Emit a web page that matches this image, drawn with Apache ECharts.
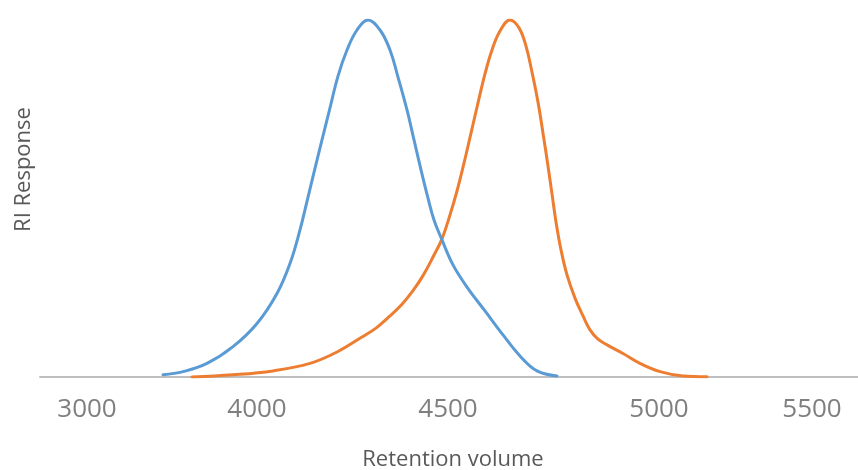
<!DOCTYPE html>
<html>
<head>
<meta charset="utf-8">
<script src="https://cdn.jsdelivr.net/npm/echarts@6/dist/echarts.min.js"></script>
<style>
  html, body { margin: 0; padding: 0; background: #ffffff; }
  #chart { width: 858px; height: 470px; }
</style>
</head>
<body>
<div id="chart"></div>
<script>
// Tick labels of the retention-volume axis and the category slot where each one sits
const tickLabels = [3000, 4000, 4500, 5000, 5500];
const tickSlots = [47, 217, 408, 619, 772];
const slotCount = 819;

// Series 1 (blue)
const blueVolume = [3445, 3566, 3704, 3861, 3998, 4052, 4086, 4113, 4131, 4149, 4170, 4191, 4213, 4235, 4261, 4290,
  4322, 4348, 4370, 4392, 4411, 4429, 4448, 4463, 4484, 4512, 4545, 4588, 4630, 4671, 4711, 4758];
const blueResponse = [0.6, 1.5, 3.8, 8.5, 15.0, 23.4, 31.8, 41.2, 49.2, 57.3, 66.4, 75.4, 84.3, 91.6, 97.2, 100,
  97.2, 91.6, 84.0, 74.8, 66.4, 58.0, 50.1, 44.0, 38.4, 31.4, 25.2, 18.5, 11.8, 5.9, 1.7, 0.3];

// Series 2 (orange)
const orangeVolume = [3616, 3859, 4042, 4139, 4209, 4275, 4312, 4348, 4380, 4408, 4435, 4461, 4484, 4505, 4521, 4538,
  4555, 4571, 4588, 4604, 4623, 4647, 4668, 4685, 4699, 4713, 4725, 4737, 4746, 4756, 4768, 4782, 4801, 4820, 4836,
  4855, 4876, 4915, 4955, 5003, 5079, 5156];
const orangeResponse = [0.0, 0.6, 1.7, 3.8, 7.0, 11.2, 13.7, 17.1, 20.4, 24.2, 28.4, 33.6, 38.7, 45.4, 52.1, 59.9,
  68.3, 76.8, 84.9, 91.6, 96.9, 100, 97.8, 92.7, 85.4, 77.0, 68.3, 59.1, 51.3, 43.4, 35.6, 28.6, 22.1, 17.1, 13.2,
  10.6, 9.0, 6.6, 3.8, 1.5, 0.3, 0.1];

// piecewise mapping between category slot and retention volume (the axis is not linear)
function segIndex(arr, v) {
  let k = 0;
  while (k < arr.length - 2 && v > arr[k + 1]) k++;
  return k;
}
function volumeAtSlot(i) {
  const k = segIndex(tickSlots, i);
  const t = (i - tickSlots[k]) / (tickSlots[k + 1] - tickSlots[k]);
  return tickLabels[k] + t * (tickLabels[k + 1] - tickLabels[k]);
}
function slotOfVolume(v) {
  const k = segIndex(tickLabels, v);
  const t = (v - tickLabels[k]) / (tickLabels[k + 1] - tickLabels[k]);
  return Math.round(tickSlots[k] + t * (tickSlots[k + 1] - tickSlots[k]));
}
const categories = Array.from({ length: slotCount }, (_, i) => String(Math.round(volumeAtSlot(i))));
const pairs = (xs, ys) => xs.map((v, i) => [slotOfVolume(v), ys[i]]);

const chart = echarts.init(document.getElementById('chart'));
chart.setOption({
  animation: false,
  backgroundColor: '#ffffff',
  grid: { left: 40, right: 0, top: 20, bottom: 93, containLabel: false, outerBoundsMode: 'none' },
  xAxis: {
    type: 'category',
    data: categories,
    boundaryGap: false,
    name: 'Retention volume',
    nameLocation: 'middle',
    nameGap: 72,
    nameTextStyle: { color: '#595959', fontSize: 22, fontFamily: 'Open Sans', padding: [0, 0, 0, 8] },
    axisLine: { show: true, lineStyle: { color: '#bfbfbf', width: 2 } },
    axisTick: { show: false },
    axisLabel: {
      show: true,
      interval: (index) => tickSlots.includes(index),
      margin: 20,
      color: '#7f7f7f',
      fontSize: 26,
      fontFamily: 'Open Sans',
      hideOverlap: false
    },
    splitLine: { show: false }
  },
  yAxis: {
    type: 'value',
    min: 0,
    max: 100,
    name: 'RI Response',
    nameLocation: 'middle',
    nameGap: 5,
    nameRotate: 90,
    nameTextStyle: { color: '#595959', fontSize: 22, fontFamily: 'Open Sans', padding: [0, 0, 0, 58] },
    axisLine: { show: false },
    axisTick: { show: false },
    axisLabel: { show: false },
    splitLine: { show: false }
  },
  series: [
    {
      name: 'Sample 1',
      type: 'line',
      data: pairs(blueVolume, blueResponse),
      smooth: 0.4,
      showSymbol: false,
      lineStyle: { color: '#5b9bd5', width: 3, cap: 'round', join: 'round' },
      itemStyle: { color: '#5b9bd5' },
      z: 3
    },
    {
      name: 'Sample 2',
      type: 'line',
      data: pairs(orangeVolume, orangeResponse),
      smooth: 0.4,
      showSymbol: false,
      lineStyle: { color: '#ed7d31', width: 3, cap: 'round', join: 'round' },
      itemStyle: { color: '#ed7d31' },
      z: 2
    }
  ]
});
</script>
</body>
</html>
